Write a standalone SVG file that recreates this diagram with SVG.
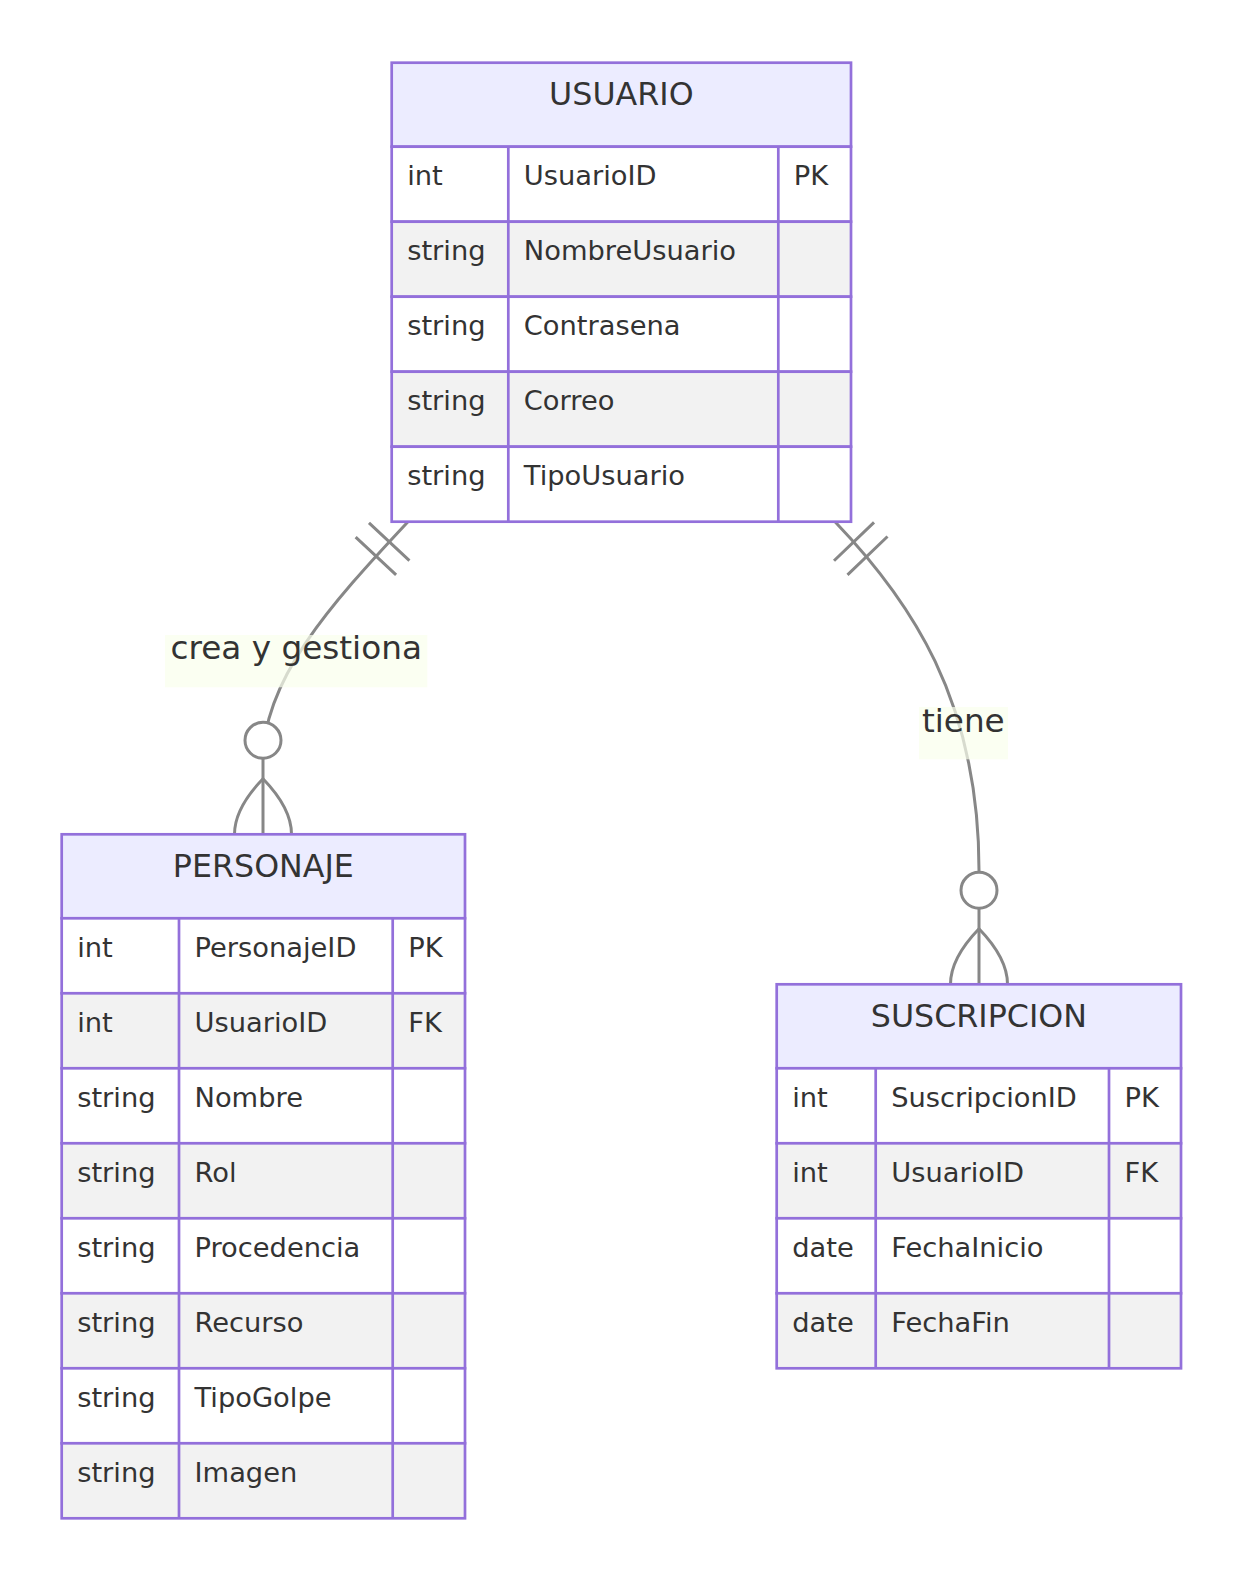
<svg xmlns="http://www.w3.org/2000/svg" width="1243" height="1581" viewBox="0 0 1243 1581">
<style>
.hdr{fill:#ECECFF}
.r0{fill:#ffffff}
.r1{fill:#f2f2f2}
.cell{stroke:#9370DB;stroke-width:2.7;fill-rule:nonzero}
.div{stroke:#9370DB;stroke-width:2.7;fill:none}
text{font-family:"DejaVu Sans",Verdana,sans-serif;fill:#333333}
.t-h{font-size:31.7px;text-anchor:middle}
.t-a{font-size:27.3px}
.t-l{font-size:32.7px;text-anchor:middle}
.rel{fill:none;stroke:#878787;stroke-width:3}
.mk{fill:none;stroke:#878787;stroke-width:3}
.lbl{fill:#f9ffec;fill-opacity:0.7}
</style>
<defs>
<marker id="one" markerUnits="userSpaceOnUse" orient="auto-start-reverse" viewBox="-120 -40 140 80" markerWidth="140" markerHeight="80" refX="0" refY="0">
<path class="mk" d="M-27.5,-27.7V27.7M-47,-27.7V27.7"/>
</marker>
<marker id="zeroMany" markerUnits="userSpaceOnUse" orient="auto" viewBox="-120 -40 140 80" markerWidth="140" markerHeight="80" refX="0" refY="0">
<path class="mk" d="M-55.5,0Q-26,-28.5 0,-28.5M-55.5,0Q-26,28.5 0,28.5"/>
<circle cx="-94" cy="0" r="18" fill="#ffffff" stroke="#878787" stroke-width="3"/>
</marker>
</defs>
<rect width="1243" height="1581" fill="#ffffff"/>
<g id="connectors">
<path class="rel" d="M408,521.7 C330,605 263,680 263,760 L263,834.3" marker-start="url(#one)" marker-end="url(#zeroMany)"/>
<path class="rel" d="M835,521.7 C910,600 979,700 979,870 L979,984.3" marker-start="url(#one)" marker-end="url(#zeroMany)"/>
<rect class="lbl" x="165" y="635" width="262.3" height="52.3"/>
<text class="t-l" x="296.2" y="659">crea y gestiona</text>
<rect class="lbl" x="919" y="707" width="89" height="52.3"/>
<text class="t-l" x="963.3" y="732">tiene</text>
</g>
<g id="usuario" transform="translate(391.7,62.7)">
<rect class="hdr cell" width="459.3" height="84"/>
<rect class="r0 cell" y="84" width="459.3" height="75"/>
<rect class="r1 cell" y="159" width="459.3" height="75"/>
<rect class="r0 cell" y="234" width="459.3" height="75"/>
<rect class="r1 cell" y="309" width="459.3" height="75"/>
<rect class="r0 cell" y="384" width="459.3" height="75"/>
<path class="div" d="M116.6,84V459M386.6,84V459"/>
<text class="t-h" x="229.65" y="42.3">USUARIO</text>
<text class="t-a" x="15.5" y="122.3">int</text><text class="t-a" x="132.1" y="122.3">UsuarioID</text><text class="t-a" x="402.1" y="122.3">PK</text>
<text class="t-a" x="15.5" y="197.3">string</text><text class="t-a" x="132.1" y="197.3">NombreUsuario</text>
<text class="t-a" x="15.5" y="272.3">string</text><text class="t-a" x="132.1" y="272.3">Contrasena</text>
<text class="t-a" x="15.5" y="347.3">string</text><text class="t-a" x="132.1" y="347.3">Correo</text>
<text class="t-a" x="15.5" y="422.3">string</text><text class="t-a" x="132.1" y="422.3">TipoUsuario</text>
</g>
<g id="personaje" transform="translate(61.7,834.3)">
<rect class="hdr cell" width="403.3" height="84"/>
<rect class="r0 cell" y="84" width="403.3" height="75"/>
<rect class="r1 cell" y="159" width="403.3" height="75"/>
<rect class="r0 cell" y="234" width="403.3" height="75"/>
<rect class="r1 cell" y="309" width="403.3" height="75"/>
<rect class="r0 cell" y="384" width="403.3" height="75"/>
<rect class="r1 cell" y="459" width="403.3" height="75"/>
<rect class="r0 cell" y="534" width="403.3" height="75"/>
<rect class="r1 cell" y="609" width="403.3" height="75"/>
<path class="div" d="M117.3,84V684M331,84V684"/>
<text class="t-h" x="201.65" y="42.3">PERSONAJE</text>
<text class="t-a" x="15.5" y="122.3">int</text><text class="t-a" x="132.8" y="122.3">PersonajeID</text><text class="t-a" x="346.5" y="122.3">PK</text>
<text class="t-a" x="15.5" y="197.3">int</text><text class="t-a" x="132.8" y="197.3">UsuarioID</text><text class="t-a" x="346.5" y="197.3">FK</text>
<text class="t-a" x="15.5" y="272.3">string</text><text class="t-a" x="132.8" y="272.3">Nombre</text>
<text class="t-a" x="15.5" y="347.3">string</text><text class="t-a" x="132.8" y="347.3">Rol</text>
<text class="t-a" x="15.5" y="422.3">string</text><text class="t-a" x="132.8" y="422.3">Procedencia</text>
<text class="t-a" x="15.5" y="497.3">string</text><text class="t-a" x="132.8" y="497.3">Recurso</text>
<text class="t-a" x="15.5" y="572.3">string</text><text class="t-a" x="132.8" y="572.3">TipoGolpe</text>
<text class="t-a" x="15.5" y="647.3">string</text><text class="t-a" x="132.8" y="647.3">Imagen</text>
</g>
<g id="suscripcion" transform="translate(776.7,984.3)">
<rect class="hdr cell" width="404.3" height="84"/>
<rect class="r0 cell" y="84" width="404.3" height="75"/>
<rect class="r1 cell" y="159" width="404.3" height="75"/>
<rect class="r0 cell" y="234" width="404.3" height="75"/>
<rect class="r1 cell" y="309" width="404.3" height="75"/>
<path class="div" d="M99,84V384M332.3,84V384"/>
<text class="t-h" x="202.15" y="42.3">SUSCRIPCION</text>
<text class="t-a" x="15.5" y="122.3">int</text><text class="t-a" x="114.5" y="122.3">SuscripcionID</text><text class="t-a" x="347.8" y="122.3">PK</text>
<text class="t-a" x="15.5" y="197.3">int</text><text class="t-a" x="114.5" y="197.3">UsuarioID</text><text class="t-a" x="347.8" y="197.3">FK</text>
<text class="t-a" x="15.5" y="272.3">date</text><text class="t-a" x="114.5" y="272.3">FechaInicio</text>
<text class="t-a" x="15.5" y="347.3">date</text><text class="t-a" x="114.5" y="347.3">FechaFin</text>
</g>
</svg>
